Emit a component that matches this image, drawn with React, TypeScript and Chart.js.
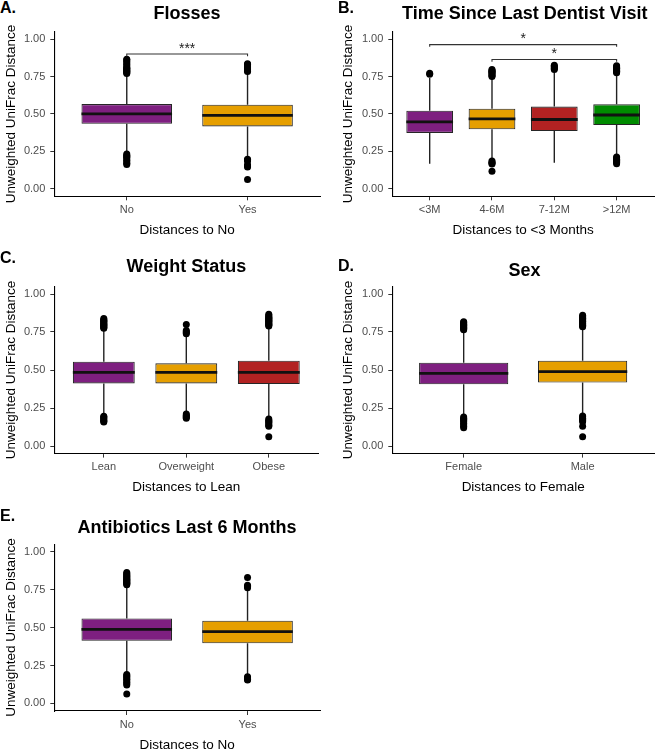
import React, { useEffect, useRef } from "react";
import { Chart, registerables } from "chart.js";
Chart.register(...registerables);

// ---------- data ----------
const yTickValues = [0, 0.25, 0.5, 0.75, 1.0];
const yTitle = "Unweighted UniFrac Distance";

// A. Flosses
const flossCats = ["No", "Yes"];
const flossQ1 = [0.434, 0.417];
const flossMed = [0.5, 0.49];
const flossQ3 = [0.566, 0.562];
const flossLo = [0.237, 0.2];
const flossHi = [0.764, 0.778];
const flossOut = [
  [0.77, 0.775, 0.78, 0.785, 0.79, 0.795, 0.8, 0.805, 0.81, 0.82, 0.83, 0.84, 0.85, 0.86, 0.866, 0.232, 0.225, 0.218, 0.21, 0.2, 0.19, 0.18, 0.17, 0.162],
  [0.783, 0.788, 0.795, 0.8, 0.808, 0.815, 0.822, 0.83, 0.836, 0.198, 0.192, 0.186, 0.16, 0.153, 0.146, 0.062],
];
const flossBrackets: [number, number, number][] = [[1, 2, 0.9]];
const flossStars = ["***"];

// B. Time Since Last Dentist Visit
const dentCats = ["<3M", "4-6M", "7-12M", ">12M"];
const dentQ1 = [0.373, 0.397, 0.386, 0.426];
const dentMed = [0.447, 0.467, 0.463, 0.493];
const dentQ3 = [0.522, 0.535, 0.549, 0.564];
const dentLo = [0.167, 0.192, 0.174, 0.22];
const dentHi = [0.74, 0.74, 0.788, 0.77];
const dentOut = [
  [0.765, 0.772],
  [0.75, 0.755, 0.76, 0.77, 0.775, 0.78, 0.785, 0.79, 0.797, 0.185, 0.178, 0.17, 0.165, 0.118],
  [0.797, 0.803, 0.81, 0.818, 0.826],
  [0.775, 0.78, 0.785, 0.79, 0.795, 0.8, 0.805, 0.81, 0.815, 0.822, 0.212, 0.205, 0.198, 0.19, 0.183, 0.175, 0.168],
];
const dentBrackets: [number, number, number][] = [[1, 4, 0.963], [2, 4, 0.864]];
const dentStars = ["*", "*"];

// C. Weight Status
const wtCats = ["Lean", "Overweight", "Obese"];
const wtQ1 = [0.412, 0.412, 0.408];
const wtMed = [0.485, 0.484, 0.484];
const wtQ3 = [0.555, 0.544, 0.561];
const wtLo = [0.2, 0.215, 0.182];
const wtHi = [0.768, 0.728, 0.788];
const wtOut = [
  [0.775, 0.78, 0.785, 0.79, 0.795, 0.8, 0.805, 0.81, 0.815, 0.82, 0.825, 0.83, 0.838, 0.195, 0.19, 0.185, 0.178, 0.17, 0.163, 0.158],
  [0.8, 0.76, 0.752, 0.745, 0.738, 0.21, 0.203, 0.196, 0.189, 0.183],
  [0.79, 0.795, 0.8, 0.805, 0.81, 0.815, 0.82, 0.825, 0.83, 0.835, 0.84, 0.845, 0.85, 0.858, 0.866, 0.178, 0.17, 0.162, 0.155, 0.145, 0.137, 0.13, 0.061],
];

// D. Sex
const sexCats = ["Female", "Male"];
const sexQ1 = [0.406, 0.417];
const sexMed = [0.478, 0.489];
const sexQ3 = [0.548, 0.561];
const sexLo = [0.195, 0.203];
const sexHi = [0.76, 0.776];
const sexOut = [
  [0.765, 0.77, 0.775, 0.78, 0.785, 0.79, 0.795, 0.8, 0.805, 0.812, 0.818, 0.19, 0.183, 0.176, 0.168, 0.16, 0.15, 0.14, 0.13, 0.12],
  [0.785, 0.79, 0.795, 0.8, 0.805, 0.81, 0.815, 0.82, 0.825, 0.83, 0.835, 0.84, 0.845, 0.852, 0.86, 0.198, 0.19, 0.182, 0.175, 0.167, 0.16, 0.13, 0.061],
];

// E. Antibiotics Last 6 Months
const abxCats = ["No", "Yes"];
const abxQ1 = [0.413, 0.396];
const abxMed = [0.488, 0.473];
const abxQ3 = [0.56, 0.545];
const abxLo = [0.195, 0.178];
const abxHi = [0.778, 0.755];
const abxOut = [
  [0.782, 0.787, 0.792, 0.797, 0.802, 0.807, 0.812, 0.818, 0.824, 0.83, 0.836, 0.842, 0.848, 0.855, 0.862, 0.19, 0.183, 0.176, 0.168, 0.16, 0.15, 0.14, 0.13, 0.122, 0.062],
  [0.83, 0.778, 0.77, 0.762, 0.175, 0.168, 0.16, 0.155],
];

// ---------- styles ----------
const PURPLE = "#7E1F80";
const ORANGE = "#E69F00";
const RED = "#B22222";
const GREEN = "#008B00";
const FONT = '"Liberation Sans", Arial, Helvetica, sans-serif';
const BOX_WIDTH = 0.75;
const TIP = 0.015;

type Layout = {
  left: number; top: number; w: number; h: number;
  padR: number; padT: number; yW: number; xH: number;
  yTitlePad: number; xTitlePad: number;
};

type PanelCfg = {
  cats: string[]; colors: string[];
  q1: number[]; med: number[]; q3: number[]; lo: number[]; hi: number[];
  out: number[][];
  brackets?: [number, number, number][]; stars?: string[];
  xTitle: string;
  layout: Layout;
};

const panels: PanelCfg[] = [
  {
    cats: flossCats, colors: [PURPLE, ORANGE], q1: flossQ1, med: flossMed, q3: flossQ3, lo: flossLo, hi: flossHi,
    out: flossOut, brackets: flossBrackets, stars: flossStars, xTitle: "Distances to No",
    layout: { left: 0, top: 20, w: 328, h: 230, padR: 8, padT: 9.1, yW: 54.3, xH: 53.7, yTitlePad: 3.0, xTitlePad: 11.5 },
  },
  {
    cats: dentCats, colors: [PURPLE, ORANGE, RED, GREEN], q1: dentQ1, med: dentMed, q3: dentQ3, lo: dentLo, hi: dentHi,
    out: dentOut, brackets: dentBrackets, stars: dentStars, xTitle: "Distances to <3 Months",
    layout: { left: 328, top: 20, w: 330, h: 230, padR: 1, padT: 9.1, yW: 64.3, xH: 53.7, yTitlePad: 12.0, xTitlePad: 11.5 },
  },
  {
    cats: wtCats, colors: [PURPLE, ORANGE, RED], q1: wtQ1, med: wtMed, q3: wtQ3, lo: wtLo, hi: wtHi,
    out: wtOut, xTitle: "Distances to Lean",
    layout: { left: 0, top: 270, w: 328, h: 230, padR: 9.7, padT: 16.4, yW: 54.3, xH: 46.4, yTitlePad: 3.0, xTitlePad: 4.2 },
  },
  {
    cats: sexCats, colors: [PURPLE, ORANGE], q1: sexQ1, med: sexMed, q3: sexQ3, lo: sexLo, hi: sexHi,
    out: sexOut, xTitle: "Distances to Female",
    layout: { left: 328, top: 270, w: 330, h: 230, padR: 1.3, padT: 16.4, yW: 64.3, xH: 46.4, yTitlePad: 12.0, xTitlePad: 4.2 },
  },
  {
    cats: abxCats, colors: [PURPLE, ORANGE], q1: abxQ1, med: abxMed, q3: abxQ3, lo: abxLo, hi: abxHi,
    out: abxOut, xTitle: "Distances to No",
    layout: { left: 0, top: 520, w: 328, h: 240, padR: 8, padT: 24.1, yW: 54.3, xH: 49, yTitlePad: 3.0, xTitlePad: 6.8 },
  },
];

const headings = [
  { letter: "A.", lx: 0, lb: 13.5, title: "Flosses", cx: 187, tb: 19 },
  { letter: "B.", lx: 338, lb: 13.5, title: "Time Since Last Dentist Visit", cx: 524.7, tb: 19.5 },
  { letter: "C.", lx: 0, lb: 263.5, title: "Weight Status", cx: 186.3, tb: 272.5 },
  { letter: "D.", lx: 338, lb: 271.5, title: "Sex", cx: 524.5, tb: 276 },
  { letter: "E.", lx: 0, lb: 521.5, title: "Antibiotics Last 6 Months", cx: 187, tb: 533.3 },
];

function Panel({ cfg }: { cfg: PanelCfg }) {
  const ref = useRef<HTMLCanvasElement | null>(null);
  useEffect(() => {
    if (!ref.current) return;
    const n = cfg.cats.length;
    const L = cfg.layout;
    const half = BOX_WIDTH / 2;
    const boxData = cfg.cats.map((_, i) => ({ x: i + 1, y: [cfg.q1[i], cfg.q3[i]] }));
    const whiskers: any[] = [];
    const medians: any[] = [];
    cfg.cats.forEach((_, i) => {
      const x = i + 1;
      whiskers.push({ x, y: cfg.lo[i] }, { x, y: cfg.q1[i] }, { x, y: null }, { x, y: cfg.q3[i] }, { x, y: cfg.hi[i] }, { x, y: null });
      medians.push({ x: x - half, y: cfg.med[i] }, { x: x + half, y: cfg.med[i] }, { x, y: null });
    });
    const outliers = cfg.out.flatMap((arr, i) => arr.map((v) => ({ x: i + 1, y: v })));
    const brackets: any[] = [];
    (cfg.brackets || []).forEach(([a, b, y]) => {
      brackets.push({ x: a, y: y - TIP }, { x: a, y }, { x: b, y }, { x: b, y: y - TIP }, { x: b, y: null });
    });

    const starPlugin = {
      id: "stars",
      afterDatasetsDraw(chart: any) {
        const br = cfg.brackets || [];
        if (!br.length) return;
        const { ctx, scales } = chart;
        ctx.save();
        ctx.font = `14px ${FONT}`;
        ctx.fillStyle = "#222";
        ctx.textAlign = "center";
        ctx.textBaseline = "alphabetic";
        br.forEach(([a, b, y], k) => {
          const px = scales.x.getPixelForValue((a + b) / 2);
          const py = scales.y.getPixelForValue(y) - 1.5;
          ctx.fillText((cfg.stars || [])[k] || "", px, py);
        });
        ctx.restore();
      },
    };

    const chart = new Chart(ref.current, {
      type: "bar",
      data: {
        datasets: [
          {
            type: "line", data: whiskers, borderColor: "#222", borderWidth: 1.4, pointRadius: 0,
            spanGaps: false, order: 4, fill: false, borderCapStyle: "butt",
          } as any,
          {
            type: "bar", data: boxData as any, backgroundColor: cfg.colors, borderColor: "#262626", borderWidth: 1.1,
            borderSkipped: false, barPercentage: BOX_WIDTH, categoryPercentage: 1, grouped: false, order: 3,
          } as any,
          {
            type: "line", data: medians, borderColor: "#111", borderWidth: 2.8, pointRadius: 0,
            spanGaps: false, order: 2, borderCapStyle: "butt", fill: false,
          } as any,
          {
            type: "scatter", data: outliers, backgroundColor: "#000", borderWidth: 0, pointRadius: 3.5,
            order: 1,
          } as any,
          {
            type: "line", data: brackets, borderColor: "#333", borderWidth: 1.1, pointRadius: 0,
            spanGaps: false, order: 0, fill: false,
          } as any,
        ],
      },
      options: {
        animation: false,
        responsive: false,
        maintainAspectRatio: false,
        events: [],
        layout: { padding: { left: 0, right: L.padR, top: L.padT, bottom: 0 } },
        plugins: { legend: { display: false }, tooltip: { enabled: false }, title: { display: false } },
        scales: {
          x: {
            type: "linear", min: 0.4, max: n + 0.6, offset: false,
            grid: { drawOnChartArea: false, offset: false, drawTicks: true, tickLength: 4, color: "#333" },
            border: { display: true, color: "#000", width: 1.1 },
            ticks: {
              autoSkip: false, maxRotation: 0, padding: 3, color: "#4D4D4D",
              font: { family: FONT, size: 11 },
              callback: (v: any) => cfg.cats[Math.round(v) - 1] ?? "",
            },
            afterBuildTicks: (s: any) => { s.ticks = cfg.cats.map((_, i) => ({ value: i + 1 })); },
            afterFit: (s: any) => { s.height = L.xH; },
            title: {
              display: true, text: cfg.xTitle, color: "#000", font: { family: FONT, size: 13.5 },
              padding: { top: 0, bottom: L.xTitlePad },
            },
          } as any,
          y: {
            type: "linear", min: -0.05, max: 1.05,
            grid: { drawOnChartArea: false, drawTicks: true, tickLength: 4, color: "#333" },
            border: { display: true, color: "#000", width: 1.1 },
            ticks: {
              padding: 5, color: "#4D4D4D", font: { family: FONT, size: 11 },
              callback: (v: any) => Number(v).toFixed(2),
            },
            afterBuildTicks: (s: any) => { s.ticks = yTickValues.map((v) => ({ value: v })); },
            afterFit: (s: any) => { s.width = L.yW; },
            title: {
              display: true, text: yTitle, color: "#000", font: { family: FONT, size: 13.5 },
              padding: { top: L.yTitlePad, bottom: 0 },
            },
          } as any,
        },
      },
      plugins: [starPlugin],
    });
    return () => chart.destroy();
  }, [cfg]);
  const L = cfg.layout;
  return (
    <canvas
      ref={ref}
      width={L.w}
      height={L.h}
      style={{ position: "absolute", left: L.left, top: L.top, width: L.w, height: L.h }}
    />
  );
}

function TextAt({ text, x, baseline, size, center }: { text: string; x: number; baseline: number; size: number; center?: boolean }) {
  const top = baseline - 0.8465 * size;
  const style: React.CSSProperties = {
    position: "absolute", top, fontSize: size, lineHeight: `${size}px`, fontWeight: "bold",
    fontFamily: FONT, color: "#000", whiteSpace: "nowrap",
  };
  if (center) {
    style.left = x - 200;
    style.width = 400;
    style.textAlign = "center";
  } else {
    style.left = x;
  }
  return <div style={style}>{text}</div>;
}

export default function App() {
  return (
    <div style={{ position: "fixed", left: 0, top: 0, width: 658, height: 751, overflow: "hidden", background: "#fff" }}>
      {panels.map((p, i) => <Panel key={i} cfg={p} />)}
      {headings.map((h, i) => (
        <React.Fragment key={i}>
          <TextAt text={h.letter} x={h.lx} baseline={h.lb} size={16} />
          <TextAt text={h.title} x={h.cx} baseline={h.tb} size={18} center />
        </React.Fragment>
      ))}
    </div>
  );
}
